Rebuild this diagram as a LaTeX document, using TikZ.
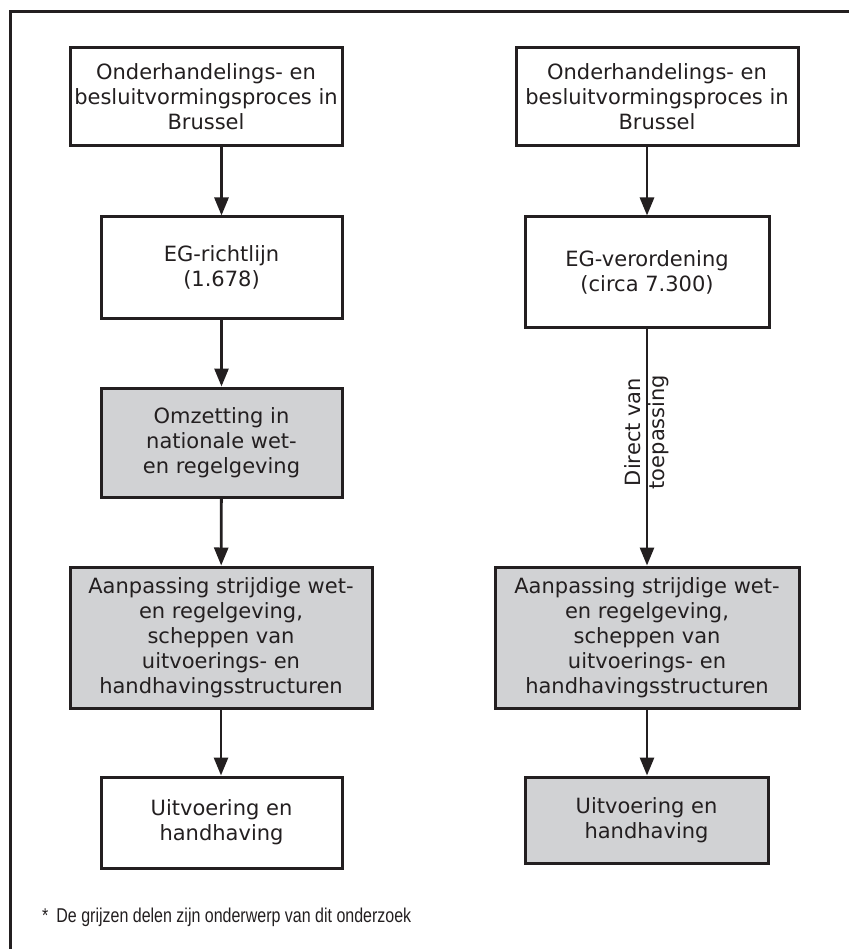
\documentclass[tikz,border=0pt]{standalone}
\usepackage{fontspec}
\setmainfont{DejaVu Sans}
\newfontfamily\notefont{Liberation Sans}
\usepackage{xcolor}
\usepackage{tikz}
\usetikzlibrary{arrows.meta}
\definecolor{ink}{HTML}{231F20}
\definecolor{greyfill}{HTML}{D1D2D4}
\tikzstyle{block} = [rectangle, draw=ink, line width=3pt, fill=white, text=ink, align=center, inner sep=0pt, font=\fontsize{21}{25}\selectfont]
\tikzstyle{greyblock} = [block, fill=greyfill]
\tikzstyle{line} = [draw=ink, line width=2.8pt, -{Triangle[length=18pt,width=14pt]}]

\begin{document}
\begin{tikzpicture}[x=1pt,y=-1pt]
\useasboundingbox (0,0) rectangle (848,949);
\draw [ink, line width=3pt] (10,952) -- (10,12) -- (852,12);

\node [block, minimum width=272pt, minimum height=98pt] (lproc) at (206,97) {Onderhandelings- en\\besluitvormingsproces in\\Brussel};
\node [block, minimum width=241pt, minimum height=101pt] (rlijn) at (221.5,267.5) {EG-richtlijn\\(1.678)};
\node [greyblock, minimum width=241pt, minimum height=109pt] (omzet) at (221.5,442.5) {Omzetting in\\nationale wet-\\en regelgeving};
\node [greyblock, minimum width=302pt, minimum height=141pt] (laanp) at (221,637.5) {Aanpassing strijdige wet-\\en regelgeving,\\scheppen van\\uitvoerings- en\\handhavingsstructuren};
\node [block, minimum width=241pt, minimum height=91pt] (luitv) at (221.5,822.5) {Uitvoering en\\handhaving};

\node [block, minimum width=282pt, minimum height=98pt] (rproc) at (657,97) {Onderhandelings- en\\besluitvormingsproces in\\Brussel};
\node [block, minimum width=244pt, minimum height=110pt] (verord) at (647,272) {EG-verordening\\(circa 7.300)};
\node [greyblock, minimum width=304pt, minimum height=141pt] (raanp) at (647,637.5) {Aanpassing strijdige wet-\\en regelgeving,\\scheppen van\\uitvoerings- en\\handhavingsstructuren};
\node [greyblock, minimum width=243pt, minimum height=86pt] (ruitv) at (646.5,820) {Uitvoering en\\handhaving};

\path [line] (rlijn.north |- lproc.south) -- (rlijn.north);
\path [line] (rlijn) -- (omzet);
\path [line] (omzet) -- (laanp);
\path [line] (laanp.south) -- (luitv.north -| laanp.south);

\path [line] (verord.north |- rproc.south) -- (verord.north);
\path [line] (verord) -- (raanp);
\path [line] (raanp.south) -- (ruitv.north -| raanp.south);

\node [rotate=90, align=center, text=ink, inner sep=0pt, font=\fontsize{21}{24}\selectfont] (direct) at (647,432) {Direct van\\toepassing};

\node [anchor=base west, text=ink, inner sep=0pt, font=\notefont\fontsize{20}{22}\selectfont] (noot) at (42,922) {\scalebox{0.8}[1]{*\enspace De grijzen delen zijn onderwerp van dit onderzoek}};
\end{tikzpicture}
\end{document}
